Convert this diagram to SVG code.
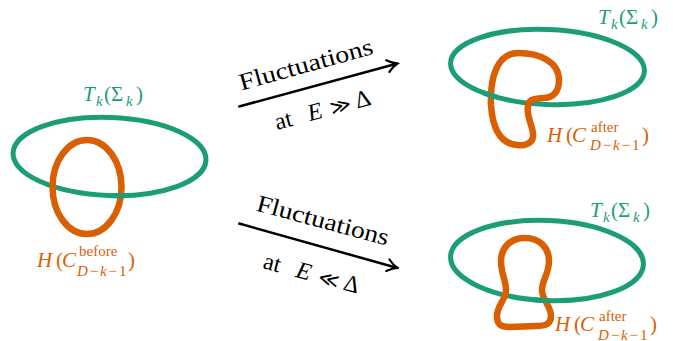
<svg xmlns="http://www.w3.org/2000/svg" width="673" height="341" viewBox="0 0 673 341">
<style>
text{font-family:"Liberation Serif","DejaVu Serif",serif}
.g{stroke:#1b9e77;stroke-width:5;fill:none}
.o{stroke:#d95f02;stroke-width:6.5;fill:none;stroke-linejoin:round}
.lg{fill:#1b9e77;font-size:21px}
.lo{fill:#d95f02;font-size:21px}
.i{font-style:italic}
.s{font-size:15px}
.ar{stroke:#000;stroke-width:2.5;fill:none}
.t{fill:#000;font-size:24px}
.m{font-size:20px}
</style>
<defs>
<marker id="ah" viewBox="-12 -8 14 16" refX="0" refY="0" markerWidth="14" markerHeight="16" markerUnits="userSpaceOnUse" orient="auto">
<path d="M -10,-6 C -6,-2.5 -2,-0.6 0,0 C -2,0.6 -6,2.5 -10,6" stroke="#000" stroke-width="2.2" fill="none" stroke-linecap="round"/>
</marker>
<clipPath id="c1"><circle cx="121" cy="196" r="8"/></clipPath>
<clipPath id="c2"><circle cx="491.5" cy="95" r="8"/></clipPath>
<clipPath id="c3"><circle cx="544.5" cy="300.5" r="8"/></clipPath>
</defs>

<g id="node-before">
<ellipse class="g" cx="109.5" cy="156.5" rx="96.5" ry="39" transform="rotate(2.1 109.5 156.5)"/>
<ellipse class="o" cx="87" cy="187" rx="34.5" ry="47"/>
<ellipse class="g" cx="109.5" cy="156.5" rx="96.5" ry="39" transform="rotate(2.1 109.5 156.5)" clip-path="url(#c1)"/>
<text class="lg"><tspan class="i" x="83" y="101">T</tspan><tspan class="i s" x="96" y="106">k</tspan><tspan x="104" y="101">(Σ</tspan><tspan class="i s" x="126" y="106">k</tspan><tspan x="136" y="101">)</tspan></text>
<text class="lo"><tspan class="i" x="37" y="267">H</tspan><tspan x="56" y="267">(</tspan><tspan class="i" x="62" y="267">C</tspan><tspan class="s" x="79" y="256">before</tspan><tspan class="i s" x="77" y="276">D</tspan><tspan class="s" x="90" y="276">−</tspan><tspan class="i s" x="100" y="276">k</tspan><tspan class="s" x="108.5" y="276">−</tspan><tspan class="s" x="119" y="276">1</tspan><tspan x="128" y="267">)</tspan></text>
</g>

<g id="node-after-high">
<ellipse class="g" cx="547.5" cy="67" rx="97" ry="37.5" transform="rotate(2.5 547.5 67)"/>
<path class="o" d="M 491,105 C 490,80 496,53 518,53 C 540,53 559,62 559,80 C 559,92 553,98 543,98 L 535,99 C 528,100 527,106 528,113 C 529,122 534,130 533,137 C 532,144 524,146 517,145 C 505,144 493,135 491,105 Z"/>
<ellipse class="g" cx="547.5" cy="67" rx="97" ry="37.5" transform="rotate(2.5 547.5 67)" clip-path="url(#c2)"/>
<text class="lg"><tspan class="i" x="598" y="24">T</tspan><tspan class="i s" x="611" y="29">k</tspan><tspan x="619" y="24">(Σ</tspan><tspan class="i s" x="641" y="29">k</tspan><tspan x="651" y="24">)</tspan></text>
<text class="lo"><tspan class="i" x="547" y="141.5">H</tspan><tspan x="566" y="141.5">(</tspan><tspan class="i" x="572" y="141.5">C</tspan><tspan class="s" x="591" y="131.5">after</tspan><tspan class="i s" x="590" y="150">D</tspan><tspan class="s" x="603" y="150">−</tspan><tspan class="i s" x="613" y="150">k</tspan><tspan class="s" x="621.5" y="150">−</tspan><tspan class="s" x="632" y="150">1</tspan><tspan x="642" y="141.5">)</tspan></text>
</g>

<g id="node-after-low">
<ellipse class="g" cx="547" cy="260.5" rx="96.5" ry="40" transform="rotate(2.4 547 260.5)"/>
<path class="o" d="M 525,238 C 540,238 549,248 549,261 C 549,274 542,280 542,290 C 542,300 551,306 551,316 C 551,324 546,326 536,326 L 510,327 C 500,327 497,324 497,316 C 497,305 506,300 506,290 C 506,280 501,274 501,261 C 501,248 510,238 525,238 Z"/>
<ellipse class="g" cx="547" cy="260.5" rx="96.5" ry="40" transform="rotate(2.4 547 260.5)" clip-path="url(#c3)"/>
<text class="lg"><tspan class="i" x="590" y="217">T</tspan><tspan class="i s" x="603" y="222">k</tspan><tspan x="611" y="217">(Σ</tspan><tspan class="i s" x="633" y="222">k</tspan><tspan x="643" y="217">)</tspan></text>
<text class="lo"><tspan class="i" x="555" y="331">H</tspan><tspan x="574" y="331">(</tspan><tspan class="i" x="580" y="331">C</tspan><tspan class="s" x="599" y="321">after</tspan><tspan class="i s" x="598" y="339.5">D</tspan><tspan class="s" x="611" y="339.5">−</tspan><tspan class="i s" x="621" y="339.5">k</tspan><tspan class="s" x="629.5" y="339.5">−</tspan><tspan class="s" x="640" y="339.5">1</tspan><tspan x="650" y="331">)</tspan></text>
</g>

<g id="connectors">
<line class="ar" x1="238.3" y1="106.7" x2="397.5" y2="63.5" marker-end="url(#ah)"/>
<line class="ar" x1="238.3" y1="223.3" x2="397.5" y2="268" marker-end="url(#ah)"/>
<text class="t" transform="translate(308 72) rotate(-15.5)" text-anchor="middle" textLength="138" lengthAdjust="spacingAndGlyphs">Fluctuations</text>
<text class="t" transform="translate(277 130) rotate(-15)"><tspan x="0">at</tspan><tspan class="i" x="34">E</tspan><tspan class="m" x="57">≫</tspan><tspan x="83">Δ</tspan></text>
<text class="t" transform="translate(321 228) rotate(15)" text-anchor="middle" textLength="136" lengthAdjust="spacingAndGlyphs">Fluctuations</text>
<text class="t" transform="translate(262 268) rotate(15)"><tspan x="0">at</tspan><tspan class="i" x="34">E</tspan><tspan class="m" x="57">≪</tspan><tspan x="83">Δ</tspan></text>
</g>
</svg>
